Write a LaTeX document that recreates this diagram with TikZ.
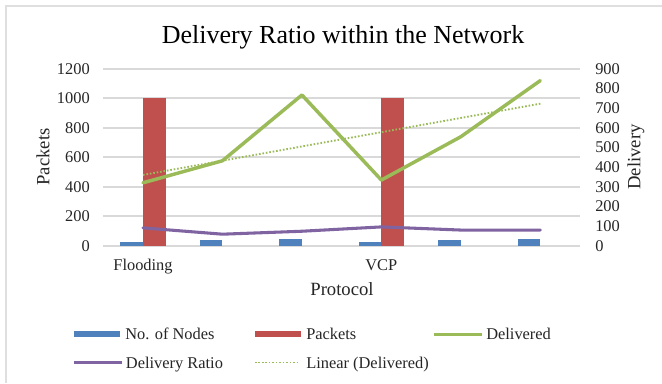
\documentclass[tikz,border=0pt]{standalone}
\usepackage{fontspec}
\setmainfont{Liberation Serif}
\definecolor{nodesblue}{HTML}{4F81BD}
\definecolor{packetsred}{HTML}{C0504D}
\definecolor{delivgreen}{HTML}{9BBB59}
\definecolor{ratiopurple}{HTML}{8064A2}
\definecolor{gridgray}{HTML}{D9D9D9}
\tikzset{
  gridline/.style={gridgray, line width=1.5pt},
  ticklabel/.style={font=\fontsize{12.3}{14}\selectfont, text=black!85, inner sep=0pt},
  axistitle/.style={font=\fontsize{14}{16}\selectfont, text=black!85},
  legendtext/.style={font=\fontsize{12.3}{14}\selectfont, text=black!85, anchor=base west, inner sep=0pt},
  trendline/.style={delivgreen, line width=1.4pt, dash pattern=on 1.2pt off 1.4pt},
}

\begin{document}
\begin{tikzpicture}[x=0.75pt, y=-0.75pt]
  % canvas and frame
  \useasboundingbox (0,0) rectangle (662,383);
  \fill[white] (0,0) rectangle (662,383);
  \draw[gray!25, line width=0.8pt] (6,383) -- (6,6) -- (662,6);

  % title
  \node[font=\fontsize{19.5}{22}\selectfont, anchor=base] (title) at (343,43.5) {Delivery Ratio within the Network};

  % grid with left and right tick labels
  \foreach \k in {0,...,6} {
    \pgfmathsetmacro{\gy}{246-\k*29.53}
    \pgfmathtruncatemacro{\lv}{\k*200}
    \draw[gridline] (103.3,\gy) -- (580,\gy);
    \node[ticklabel, anchor=east] (lt\k) at (90,\gy) {\lv};
  }
  \foreach \k in {0,...,9} {
    \pgfmathsetmacro{\gy}{246-\k*19.689}
    \pgfmathtruncatemacro{\rv}{\k*100}
    \node[ticklabel, anchor=west] (rt\k) at (595,\gy) {\rv};
  }

  % bars: nodes (blue) and packets (red), left axis
  \foreach \i/\n/\p in {1/30/1000, 2/40/0, 3/50/0, 4/30/1000, 5/40/0, 6/50/0} {
    \pgfmathsetmacro{\cx}{103.3+79.45*(\i-0.5)}
    \fill[nodesblue] (\cx-22.7,246) rectangle (\cx,246-\n*0.14767);
    \ifnum\p>0
      \fill[packetsred] (\cx,246) rectangle (\cx+22.7,246-\p*0.14767);
    \fi
  }

  % line points, right axis
  \foreach \i/\d/\r in {1/321/92, 2/433/60, 3/767/75, 4/335/97, 5/555/81, 6/840/81} {
    \pgfmathsetmacro{\cx}{103.3+79.45*(\i-0.5)}
    \coordinate (d\i) at (\cx,246-\d*0.19689);
    \coordinate (r\i) at (\cx,246-\r*0.19689);
  }
  \coordinate (t1) at (143,246-361*0.19689);
  \coordinate (t6) at (540.5,246-723*0.19689);

  \draw[ratiopurple, line width=2.3pt, line join=round, line cap=round]
    (r1) -- (r2) -- (r3) -- (r4) -- (r5) -- (r6);
  \draw[delivgreen, line width=2.6pt, line join=round, line cap=round]
    (d1) -- (d2) -- (d3) -- (d4) -- (d5) -- (d6);
  \draw[trendline] (t1) -- (t6);

  % axis labels
  \node[ticklabel, anchor=base] (flooding) at (143,270) {Flooding};
  \node[ticklabel, anchor=base] (vcp) at (381.3,270) {VCP};
  \node[axistitle, anchor=base] (protocol) at (342,295) {Protocol};
  \node[axistitle, rotate=90] (packets) at (43,157) {Packets};
  \node[axistitle, rotate=90] (delivery) at (636,157) {Delivery};

  % legend
  \fill[nodesblue] (74,331.3) rectangle (120,337.3);
  \node[legendtext] (lgnodes) at (125,339.5) {No. of Nodes};
  \fill[packetsred] (255,331.3) rectangle (300.7,337.3);
  \node[legendtext] (lgpackets) at (306,339.5) {Packets};
  \draw[delivgreen, line width=2.3pt] (434.3,334.3) -- (481.7,334.3);
  \node[legendtext] (lgdelivered) at (486,339.5) {Delivered};
  \draw[ratiopurple, line width=2.3pt] (74,362.5) -- (121.7,362.5);
  \node[legendtext] (lgratio) at (125.7,368) {Delivery Ratio};
  \draw[trendline] (255,362.5) -- (300,362.5);
  \node[legendtext] (lglinear) at (306,368) {Linear (Delivered)};
\end{tikzpicture}
\end{document}
